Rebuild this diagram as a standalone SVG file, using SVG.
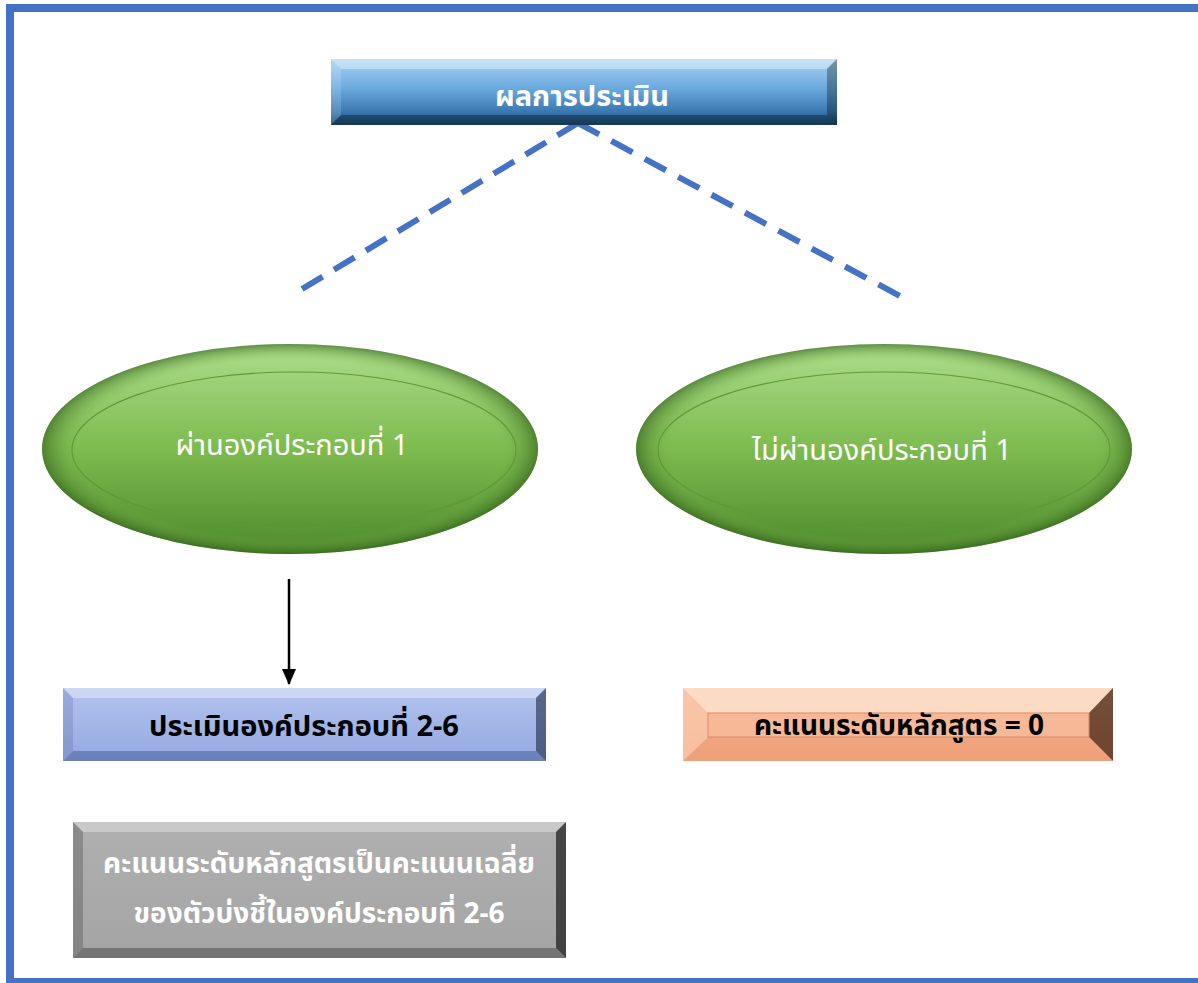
<svg xmlns="http://www.w3.org/2000/svg" width="1198" height="983" viewBox="0 0 1198 983">
<defs>
<linearGradient id="gBlue" x1="0" y1="0" x2="0" y2="1">
<stop offset="0" stop-color="#a9d3f5"/><stop offset="0.45" stop-color="#6aa8de"/><stop offset="0.8" stop-color="#3a78b0"/><stop offset="1" stop-color="#1d4566"/>
</linearGradient>
<linearGradient id="gGreen" x1="0" y1="0" x2="0" y2="1">
<stop offset="0" stop-color="#aedc8c"/><stop offset="0.5" stop-color="#7dbb4f"/><stop offset="1" stop-color="#4e8a2c"/>
</linearGradient>
<radialGradient id="gGreenRim" cx="0.5" cy="0.5" r="0.5">
<stop offset="0.85" stop-color="#7dbb4f" stop-opacity="0"/><stop offset="1" stop-color="#2d5a18" stop-opacity="0.6"/>
</radialGradient>
<linearGradient id="gLav" x1="0" y1="0" x2="0" y2="1">
<stop offset="0" stop-color="#b3c3ee"/><stop offset="1" stop-color="#93a9e2"/>
</linearGradient>
<linearGradient id="gPeach" x1="0" y1="0" x2="0" y2="1">
<stop offset="0" stop-color="#fccbb0"/><stop offset="1" stop-color="#f3a882"/>
</linearGradient>
<linearGradient id="gGray" x1="0" y1="0" x2="0" y2="1">
<stop offset="0" stop-color="#b0b0b0"/><stop offset="1" stop-color="#a4a4a4"/>
</linearGradient>
<marker id="arr" markerWidth="16" markerHeight="16" refX="15" refY="7" orient="auto" markerUnits="userSpaceOnUse" viewBox="0 0 16 14">
<path d="M0,0 L16,7 L0,14 z" fill="#000"/>
</marker>
</defs>
<style>
.th{font-family:"Noto Sans Thai","Noto Sans","Liberation Sans",sans-serif;text-anchor:middle;}
.b{font-weight:bold;}
.r{font-weight:normal;}
.w{fill:#ffffff;}
.k{fill:#000000;}
.dash{fill:none;stroke:#4472c4;stroke-width:6;}
.hl{fill:#ffffff;opacity:0.35;}
.sh{fill:#000000;opacity:0.3;}
</style>
<rect x="0" y="0" width="1198" height="983" fill="#ffffff"/>
<g id="frame">
<rect x="6" y="4" width="1192" height="8" fill="#4472c4"/>
<rect x="6" y="4" width="8" height="979" fill="#4472c4"/>
<rect x="6" y="978" width="1192" height="5" fill="#4472c4"/>
</g>
<g id="connectors">
<path class="dash" d="M578,123 L302,289" stroke-dasharray="24 13.25"/>
<path class="dash" d="M578,123 L900,296" stroke-dasharray="24 13.9"/>
<line x1="289" y1="579" x2="289" y2="684" stroke="#000" stroke-width="2.5" marker-end="url(#arr)"/>
</g>
<g id="n-result">
<rect x="331" y="59" width="506" height="66" fill="url(#gBlue)"/>
<polygon points="331,59 837,59 827,69 341,69" class="hl"/>
<polygon points="331,59 341,69 341,115 331,125" fill="#ffffff" opacity="0.15"/>
<polygon points="837,59 827,69 827,115 837,125" class="sh"/>
<polygon points="331,125 341,115 827,115 837,125" fill="#0e2a44" opacity="0.5"/>
<text x="582" y="106" class="th b w" font-size="29">ผลการประเมิน</text>
</g>
<g id="n-pass">
<ellipse cx="290" cy="449" rx="248" ry="105" fill="url(#gGreen)"/>
<ellipse cx="290" cy="449" rx="248" ry="105" fill="url(#gGreenRim)"/>
<ellipse cx="294" cy="450" rx="222" ry="78" fill="none" stroke="#5f9a3a" stroke-width="1.2"/>
<text x="292" y="455" class="th r w" font-size="29">ผ่านองค์ประกอบที่ 1</text>
</g>
<g id="n-fail">
<ellipse cx="884" cy="449" rx="248" ry="105" fill="url(#gGreen)"/>
<ellipse cx="884" cy="449" rx="248" ry="105" fill="url(#gGreenRim)"/>
<ellipse cx="884" cy="450" rx="226" ry="78" fill="none" stroke="#5f9a3a" stroke-width="1.2"/>
<text x="882" y="460" class="th r w" font-size="29">ไม่ผ่านองค์ประกอบที่ 1</text>
</g>
<g id="n-assess">
<rect x="63" y="688" width="483" height="73" fill="url(#gLav)"/>
<polygon points="63,688 546,688 536,698 73,698" class="hl"/>
<polygon points="546,688 536,698 536,751 546,761" fill="#1f2a4a" opacity="0.6"/>
<polygon points="63,761 73,751 536,751 546,761" fill="#3a4f8a" opacity="0.45"/>
<polygon points="63,688 73,698 73,751 63,761" fill="#3a4f8a" opacity="0.2"/>
<text x="304" y="736" class="th b k" font-size="29">ประเมินองค์ประกอบที่ 2-6</text>
</g>
<g id="n-zero">
<rect x="683" y="688" width="430" height="73" fill="url(#gPeach)"/>
<polygon points="683,688 1113,688 1089,713 708,713" fill="#fde0cc" opacity="0.8"/>
<polygon points="1113,688 1089,713 1089,737 1113,761" fill="#3a1a08" opacity="0.7"/>
<polygon points="683,761 708,737 1089,737 1113,761" fill="#e89870" opacity="0.5"/>
<polygon points="683,688 708,713 708,737 683,761" fill="#f9c4a6" opacity="0.8"/>
<rect x="708" y="713" width="381" height="24" fill="#f7b898" stroke="#d98b62" stroke-width="1"/>
<text x="899" y="735" class="th b k" font-size="28">คะแนนระดับหลักสูตร = 0</text>
</g>
<g id="n-avg">
<rect x="73" y="822" width="493" height="136" fill="url(#gGray)"/>
<polygon points="73,822 566,822 556,832 83,832" fill="#d0d0d0" opacity="0.8"/>
<polygon points="566,822 556,832 556,948 566,958" fill="#222" opacity="0.75"/>
<polygon points="73,958 83,948 556,948 566,958" fill="#555" opacity="0.6"/>
<polygon points="73,822 83,832 83,948 73,958" fill="#666" opacity="0.5"/>
<text x="319" y="873" class="th b w" font-size="28">คะแนนระดับหลักสูตรเป็นคะแนนเฉลี่ย</text>
<text x="319" y="923" class="th b w" font-size="28">ของตัวบ่งชี้ในองค์ประกอบที่ 2-6</text>
</g>
</svg>
